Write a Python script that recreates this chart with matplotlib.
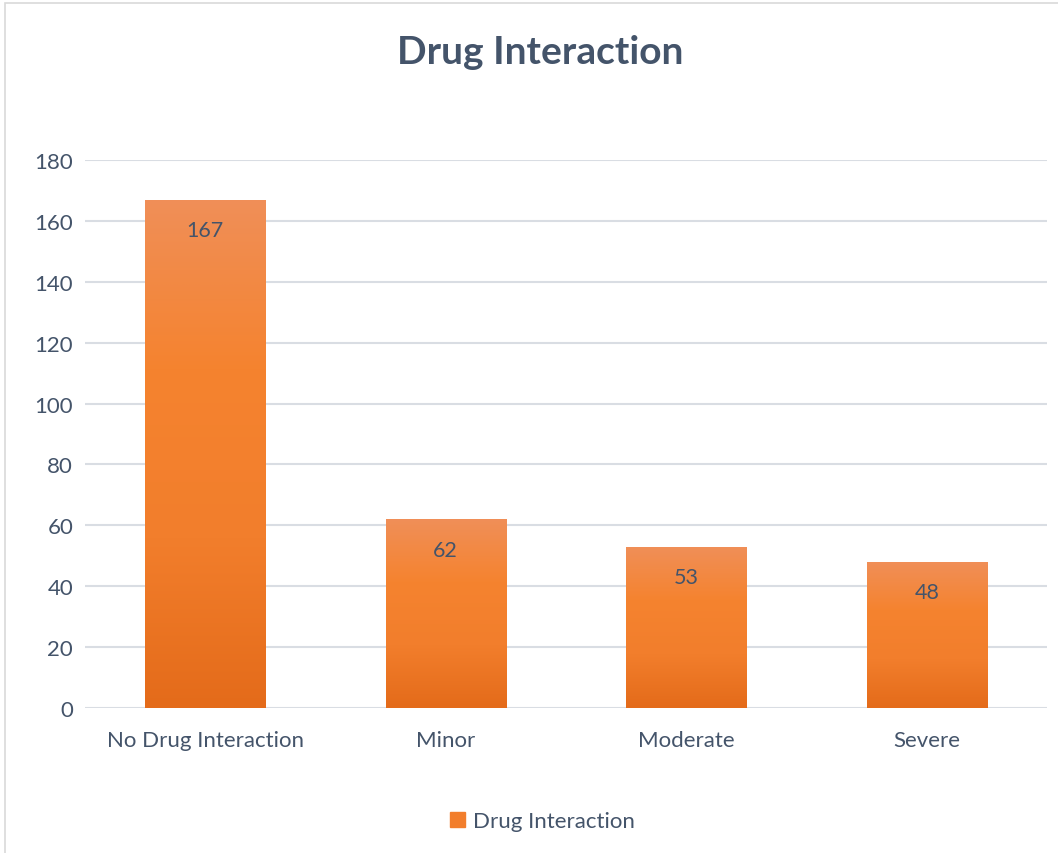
import numpy as np
import matplotlib
matplotlib.use('Agg')
import matplotlib.pyplot as plt
from matplotlib.colors import LinearSegmentedColormap
from matplotlib.patches import Rectangle

# Data
categories = ['No Drug Interaction', 'Minor', 'Moderate', 'Severe']
counts = [167, 62, 53, 48]
series_name = 'Drug Interaction'
yticks = [0, 20, 40, 60, 80, 100, 120, 140, 160, 180]

TEXT = '#44546A'
GRID = '#D9DDE3'
plt.rcParams['font.family'] = ['Lato', 'DejaVu Sans']

# Excel-like orange gradient (light top -> darker bottom)
grad = LinearSegmentedColormap.from_list(
    'orange', ['#E46B1A', '#F27E2C', '#F5832F', '#F08F58'])

fig = plt.figure(figsize=(10.58, 8.54), dpi=100)
ax = fig.add_axes([0.0803, 0.1698, 0.9093, 0.6417])

# chart area border
fig.patches.append(Rectangle((5 / 1058, -0.1), 1.2, (854 - 4) / 854 + 0.1,
                             transform=fig.transFigure, fill=False,
                             edgecolor='#D9D9D9', linewidth=1.2))

x = np.arange(len(categories))
bars = ax.bar(x, counts, width=0.5, color='#F5832F', zorder=2,
              label=series_name)

# paint gradient into each bar
g = np.linspace(0, 1, 256).reshape(-1, 1)
for b in bars:
    x0, y0 = b.get_x(), b.get_y()
    w, h = b.get_width(), b.get_height()
    im = ax.imshow(g, cmap=grad, aspect='auto', origin='lower',
                   extent=[x0, x0 + w, y0, y0 + h], zorder=3)
    im.set_clip_path(b)
    b.set_facecolor('none')

for xi, v in zip(x, counts):
    ax.text(xi, v - 10, str(v), ha='center', va='center',
            fontsize=15.5, color=TEXT, zorder=4)

ax.set_xlim(-0.5, len(categories) - 0.5)
ax.set_ylim(0, 180)
ax.set_yticks(yticks)
ax.set_xticks(x)
ax.set_xticklabels(categories)
ax.grid(axis='y', color=GRID, linewidth=1.5, zorder=0)
ax.set_axisbelow(True)
for s in ax.spines.values():
    s.set_visible(False)
ax.tick_params(length=0, labelsize=16, colors=TEXT)
ax.tick_params(axis='x', pad=16)
ax.tick_params(axis='y', pad=8.5)

fig.text(0.511, 0.939, 'Drug Interaction', ha='center', va='center',
         fontsize=28, fontweight='bold', color=TEXT)

leg = fig.legend(handles=[Rectangle((0, 0), 1, 1, color='#F27E2C')],
                 labels=[series_name], loc='center',
                 bbox_to_anchor=(0.513, 0.037), frameon=False,
                 fontsize=16, handlelength=0.65, handleheight=0.65,
                 handletextpad=0.4)
for t in leg.get_texts():
    t.set_color(TEXT)

fig.savefig('out.png', dpi=100)
